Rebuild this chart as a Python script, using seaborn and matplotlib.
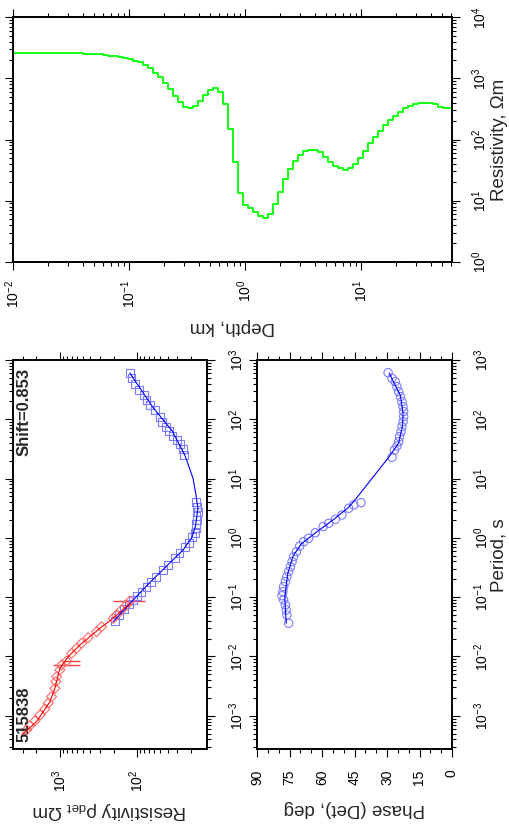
import numpy as np
import pandas as pd
import matplotlib
matplotlib.use("Agg")
import matplotlib.pyplot as plt
import seaborn as sns
from matplotlib.ticker import (LogLocator, LogFormatterMathtext, NullFormatter,
                               MultipleLocator, FixedLocator, FormatStrFormatter)

# ---------------- data ----------------
site_name = "515838"
shift_text = "Shift=0.853"

# AMT band: determinant apparent resistivity (observed)
amt_period = [5.77e-4, 6.82e-4, 8.18e-4, 1.03e-3, 1.30e-3, 1.63e-3, 2.10e-3, 2.91e-3,
              3.77e-3, 4.57e-3, 5.93e-3, 7.19e-3, 8.39e-3, 0.0113, 0.0137, 0.0167,
              0.0208, 0.0262, 0.0318, 0.0441, 0.0501, 0.0610, 0.0740, 0.0863]
amt_rho = [2667, 2415, 2080, 1791, 1545, 1400, 1268, 1148,
           1114, 1091, 989, 940, 811, 698, 603, 519,
           426, 332, 286, 202, 183, 158, 136, 123]
# AMT error bars (period, lower, upper)
amt_err_period = [7.19e-3, 8.39e-3, 0.0863]
amt_err_low = [550, 546, 79]
amt_err_high = [1230, 900, 202]
# AMT model response
amt_fit_period = [4.75e-4, 7.96e-4, 1.73e-3, 2.91e-3, 6.32e-3, 9.95e-3, 0.0156, 0.0299, 0.0441, 0.0789]
amt_fit_rho = [3090, 1982, 1330, 1148, 989, 771, 546, 301, 202, 123]

# MT band: determinant apparent resistivity (observed)
mt_period = [0.0397, 0.0501, 0.0632, 0.0759, 0.0897, 0.106, 0.124, 0.151, 0.183, 0.222,
             0.288, 0.349, 0.452, 0.564, 0.693, 0.832, 1.02, 1.22, 1.45, 1.71,
             2.00, 2.34, 2.77, 3.37, 4.08, 25.0, 31.2, 38.3, 44.8, 52.2,
             64.3, 75.2, 91.2, 111, 144, 174, 211, 257, 312, 398, 491, 596]
mt_rho = [192, 169, 146, 126, 112, 99, 87, 75, 65, 56,
          46, 39, 32, 28, 24, 21, 19.1, 17.8, 17.1, 17.3,
          16.6, 16.9, 16.1, 16.6, 17.3, 24.7, 25.2, 27.9, 29.9, 34.6,
          38.2, 42.3, 47.1, 50.5, 58.6, 67.9, 75.0, 80.4, 93.3, 105, 117, 123]
# MT model response
mt_fit_period = [0.0387, 0.158, 0.631, 1.0, 1.58, 3.16, 5.62, 10, 15.8, 25.1, 63.1, 158, 603]
mt_fit_rho = [202, 74.1, 25.1, 19.5, 17.4, 16.2, 17.3, 18.7, 21.1, 24.0, 34.7, 61.7, 123]

# Determinant phase (observed)
phase_period = [0.0363, 0.0501, 0.0610, 0.0740, 0.0897, 0.106, 0.124, 0.151, 0.183, 0.222,
                0.270, 0.327, 0.398, 0.483, 0.586, 0.729, 0.863, 0.984, 1.22, 1.55,
                1.76, 2.06, 2.43, 3.16, 3.59, 3.93, 22.9, 30.3, 35.5, 42.0,
                50.9, 61.8, 75.2, 91.2, 111, 135, 163, 198, 241, 292,
                355, 432, 491, 611]
phase_deg = [75.4, 76.2, 76.5, 76.9, 77.7, 78.5, 78.0, 77.7, 76.9, 76.2,
             75.4, 74.6, 73.8, 73.1, 71.8, 70.3, 68.5, 66.2, 63.1, 59.5,
             56.9, 53.8, 50.8, 47.7, 45.4, 42.0, 27.7, 26.6, 25.4, 24.6,
             24.2, 23.5, 23.1, 22.6, 22.3, 22.3, 22.6, 23.1, 23.8, 24.6,
             25.4, 26.2, 27.7, 29.5]
# Phase model response
phase_fit_period = [0.0363, 0.1, 0.251, 0.501, 0.794, 1.26, 2.0, 3.16, 4.17, 23.4, 39.8, 79.4, 126, 251, 603]
phase_fit_deg = [76.5, 77.2, 75.8, 73.3, 69.5, 62.5, 55.0, 48.2, 45.2, 29.0, 24.6, 22.8, 22.6, 23.8, 29.0]

# 1-D layered model: layer top depth (km) and resistivity (ohm m)
layer_top_km = [0.0100, 0.02698, 0.03289, 0.04009, 0.04898, 0.05970,
                0.06592, 0.07278, 0.08035, 0.08872, 0.09795, 0.1082, 0.1195, 0.1320,
                0.1458, 0.1610, 0.1778, 0.1963, 0.2168, 0.2393, 0.2642, 0.2921,
                0.3228, 0.3565, 0.3936, 0.4345, 0.4797, 0.5297, 0.5848, 0.6457,
                0.7129, 0.7889, 0.8710, 0.9616, 1.062, 1.172, 1.294, 1.429,
                1.578, 1.742, 1.923, 2.128, 2.350, 2.594, 2.864, 3.162,
                3.491, 3.855, 4.256, 4.699, 5.188, 5.741, 6.339, 6.998,
                7.727, 8.531, 9.419, 10.40, 11.48, 12.68, 14.00, 15.49,
                17.10, 18.88, 20.84, 23.01, 25.41, 28.05, 30.97, 34.20,
                37.76, 41.78, 46.13, 50.93, 56.23]
layer_rho = [2630, 2600, 2570, 2535, 2470, 2410,
             2344, 2291, 2239, 2138, 2042, 1950, 1832, 1660,
             1462, 1242, 1042, 832, 670, 521, 406, 344,
             324, 357, 427, 535, 646, 687, 607, 376,
             147, 43.4, 13.5, 8.47, 7.66, 6.58, 5.60, 5.25,
             6.04, 8.79, 14.0, 22.3, 32.5, 44.5, 55.7, 64.9,
             68.1, 67.3, 61.7, 52.4, 43.4, 37.2, 33.7, 31.7,
             33.7, 39.3, 49.2, 64.9, 86.5, 111, 138, 173,
             208, 245, 285, 324, 357, 381, 395, 400,
             395, 377, 344, 324, 324]
model_bottom_km = 62.0

# labelled decades on each axis
period_ticks = [1e-3, 1e-2, 1e-1, 1e0, 1e1, 1e2, 1e3]
app_rho_ticks = [1e2, 1e3]
phase_ticks = [0, 15, 30, 45, 60, 75, 90]
depth_ticks = [1e-2, 1e-1, 1e0, 1e1]
model_rho_ticks = [1e0, 1e1, 1e2, 1e3, 1e4]

# ---------------- style ----------------
sns.set_theme(style="ticks")
plt.rcParams["font.family"] = ["Liberation Sans", "DejaVu Sans"]
plt.rcParams["mathtext.fontset"] = "custom"
plt.rcParams["mathtext.rm"] = "Liberation Sans"
plt.rcParams["mathtext.it"] = "Liberation Sans:italic"
plt.rcParams["mathtext.bf"] = "Liberation Sans:bold"
plt.rcParams["axes.linewidth"] = 1.4
plt.rcParams["axes.edgecolor"] = "black"

TICK_FS = 10
LABEL_FS = 13.5
W, H = 509, 826


def frac(x0, y0, x1, y1):
    """pixel box (top-left origin) -> figure fraction rect"""
    return [x0 / W, 1 - y1 / H, (x1 - x0) / W, (y1 - y0) / H]


def log_axis(axis, majors):
    axis.set_major_locator(FixedLocator(majors))
    axis.set_minor_locator(LogLocator(base=10, subs=np.arange(2, 10), numticks=30))
    axis.set_major_formatter(LogFormatterMathtext())
    axis.set_minor_formatter(NullFormatter())


def frame(ax, pad=9.0):
    ax.tick_params(which="both", direction="out", top=True, bottom=True, left=True, right=True,
                   labelleft=False, labeltop=False, labelright=True, labelbottom=True,
                   colors="black", width=0.8, labelsize=TICK_FS, pad=pad)
    ax.tick_params(which="major", length=5.5)
    ax.tick_params(which="minor", length=3)
    ax.tick_params(axis="x", labelrotation=90)
    ax.tick_params(axis="y", labelrotation=90)
    for lab in ax.get_yticklabels():
        lab.set_va("center")
    ax.set_xlabel("")
    ax.set_ylabel("")
    ax.grid(False)


fig = plt.figure(figsize=(W / 100, H / 100), dpi=100)
fig.patch.set_facecolor("white")

# ---------------- apparent resistivity ----------------
ax_r = fig.add_axes(frac(13, 360, 207, 749))
ax_r.set_xscale("log")
ax_r.set_yscale("log")

# horizontal error bars on a few AMT estimates
for per, lo, hi in zip(amt_err_period, amt_err_low, amt_err_high):
    ax_r.plot([lo, hi], [per, per], color="#ff4040", lw=1.0, solid_capstyle="butt", zorder=2)

sns.scatterplot(x=mt_rho, y=mt_period, marker="s", s=32, facecolors="none",
                edgecolor="#7c7cff", linewidth=0.8, ax=ax_r, zorder=3)
sns.scatterplot(x=amt_rho, y=amt_period, marker="D", s=26, facecolors="none",
                edgecolor="#ff6a6a", linewidth=0.8, ax=ax_r, zorder=3)
sns.lineplot(x=mt_fit_rho, y=mt_fit_period, sort=False, estimator=None,
             color="#0000ff", lw=0.8, ax=ax_r, zorder=4)
sns.lineplot(x=amt_fit_rho, y=amt_fit_period, sort=False, estimator=None,
             color="#ff0000", lw=0.8, ax=ax_r, zorder=4)

ax_r.set_xlim(10 ** 3.602, 10 ** 1.092)
ax_r.set_ylim(10 ** -3.56, 1e3)
log_axis(ax_r.xaxis, app_rho_ticks)
log_axis(ax_r.yaxis, period_ticks)
frame(ax_r)
ax_r.text(0.057, 0.979, shift_text, transform=ax_r.transAxes, rotation=90,
          ha="center", va="top", fontsize=12, fontweight="bold")
ax_r.text(0.057, 0.018, site_name, transform=ax_r.transAxes, rotation=90,
          ha="center", va="bottom", fontsize=12, fontweight="bold")

# ---------------- phase ----------------
ax_p = fig.add_axes(frac(257, 360, 452, 749))
ax_p.set_yscale("log")
sns.scatterplot(x=phase_deg, y=phase_period, marker="o", s=36, facecolors="none",
                edgecolor="#7c7cff", linewidth=0.8, ax=ax_p, zorder=3)
sns.lineplot(x=phase_fit_deg, y=phase_fit_period, sort=False, estimator=None,
             color="#0000ff", lw=0.8, ax=ax_p, zorder=4)
ax_p.set_xlim(90, 0)
ax_p.set_ylim(10 ** -3.56, 1e3)
ax_p.xaxis.set_major_locator(FixedLocator(phase_ticks))
ax_p.xaxis.set_minor_locator(MultipleLocator(5))
ax_p.xaxis.set_major_formatter(FormatStrFormatter("%d"))
log_axis(ax_p.yaxis, period_ticks)
frame(ax_p)

# ---------------- layered model ----------------
ax_m = fig.add_axes(frac(13, 17.3, 452, 261.7))
ax_m.set_xscale("log")
ax_m.set_yscale("log")
model_df = pd.DataFrame({"depth": layer_top_km + [model_bottom_km],
                         "rho": layer_rho + [layer_rho[-1]]})
sns.lineplot(data=model_df, x="depth", y="rho", sort=False, estimator=None,
             drawstyle="steps-post", color="#00ff00", lw=1.3, ax=ax_m)
ax_m.set_xlim(0.01, 10 ** 1.785)
ax_m.set_ylim(1, 1e4)
log_axis(ax_m.xaxis, depth_ticks)
log_axis(ax_m.yaxis, model_rho_ticks)
frame(ax_m, pad=7.5)

# ---------------- axis titles ----------------
fig.text(110 / W, 1 - 811 / H, "Resistivity ρ$_{\\mathrm{det}}$ Ωm", rotation=180,
         ha="center", va="center", fontsize=LABEL_FS)
fig.text(354.5 / W, 1 - 808 / H, "Phase (Det), deg", rotation=180,
         ha="center", va="center", fontsize=LABEL_FS)
fig.text(232 / W, 1 - 327 / H, "Depth, km", rotation=180,
         ha="center", va="center", fontsize=LABEL_FS)
fig.text(499 / W, 1 - 140 / H, "Resistivity, Ωm", rotation=90,
         ha="center", va="center", fontsize=LABEL_FS)
fig.text(499 / W, 1 - 555 / H, "Period, s", rotation=90,
         ha="center", va="center", fontsize=LABEL_FS)

fig.savefig("out.png", dpi=100, facecolor="white")
